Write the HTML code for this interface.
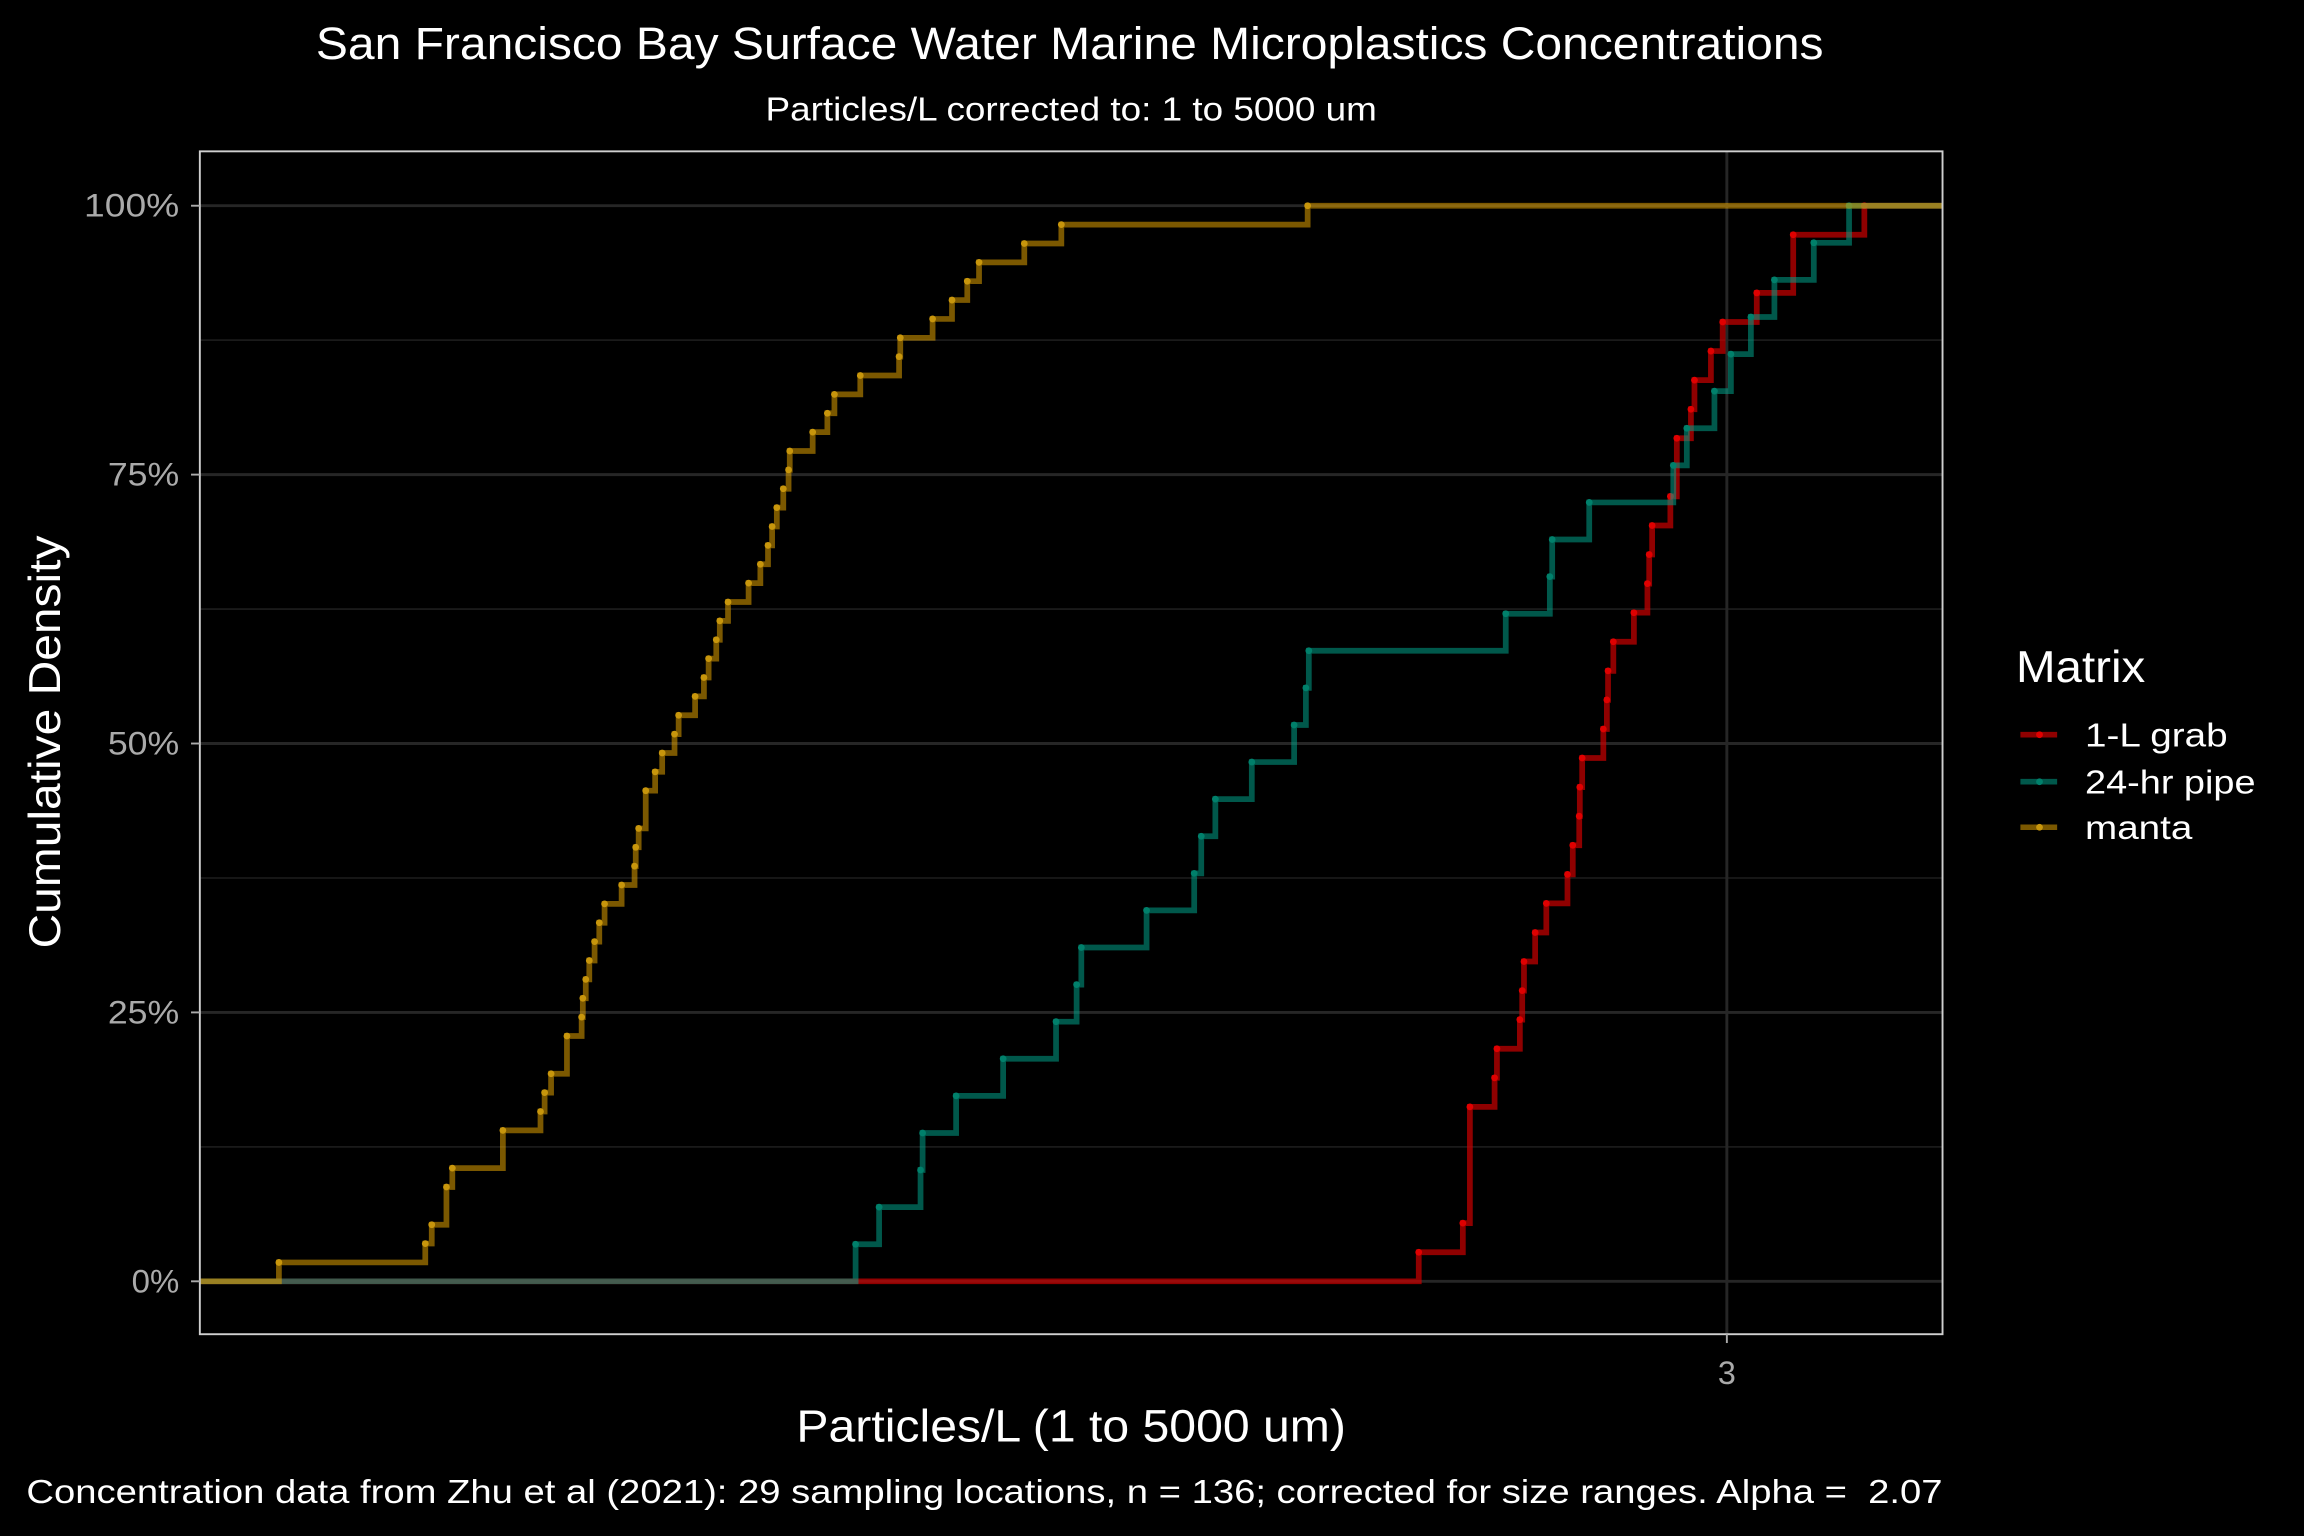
<!DOCTYPE html>
<html><head><meta charset="utf-8"><style>
html,body{margin:0;padding:0;background:#000;}
svg{display:block;font-family:"Liberation Sans",Arial,sans-serif;}
</style></head><body>
<svg id="chart" width="2304" height="1536" viewBox="0 0 1568 1045.33" preserveAspectRatio="none" xmlns="http://www.w3.org/2000/svg">
<rect x="0" y="0" width="1568" height="1046" fill="#000"/>
<text x="728" y="40" text-anchor="middle" font-size="31" textLength="1026" lengthAdjust="spacingAndGlyphs" fill="#fff">San Francisco Bay Surface Water Marine Microplastics Concentrations</text>
<text x="729" y="82" text-anchor="middle" font-size="23" textLength="416" lengthAdjust="spacingAndGlyphs" fill="#fff">Particles/L corrected to: 1 to 5000 um</text>
<g id="grid"></g>
<g id="series"></g>
<rect x="136" y="103" width="1186" height="805" fill="none" stroke="#cfcfcf" stroke-width="1.3"/>
<g id="axes"></g>
<text transform="translate(41,505) rotate(-90)" text-anchor="middle" font-size="30" textLength="281" lengthAdjust="spacingAndGlyphs" fill="#fff">Cumulative Density</text>
<text x="729" y="981" text-anchor="middle" font-size="31" textLength="374" lengthAdjust="spacingAndGlyphs" fill="#fff">Particles/L (1 to 5000 um)</text>
<text x="18" y="1023" font-size="23" textLength="1304" lengthAdjust="spacingAndGlyphs" xml:space="preserve" fill="#fff">Concentration data from Zhu et al (2021): 29 sampling locations, n = 136; corrected for size ranges. Alpha =  2.07</text>
<g>
<text x="1372" y="464" font-size="30" textLength="88" lengthAdjust="spacingAndGlyphs" fill="#fff">Matrix</text>
<g><line x1="1375" y1="500" x2="1400" y2="500" stroke="#cc0000" stroke-opacity="0.7" stroke-width="3.8"/><circle cx="1388" cy="500" r="2.3" fill="#e00000"/><text x="1419" y="508" font-size="23" textLength="97" lengthAdjust="spacingAndGlyphs" fill="#fff">1-L grab</text></g>
<g><line x1="1375" y1="532" x2="1400" y2="532" stroke="#00a088" stroke-opacity="0.55" stroke-width="3.8"/><circle cx="1388" cy="532" r="2.3" fill="#00806b"/><text x="1419" y="540" font-size="23" textLength="116" lengthAdjust="spacingAndGlyphs" fill="#fff">24-hr pipe</text></g>
<g><line x1="1375" y1="563" x2="1400" y2="563" stroke="#e0a000" stroke-opacity="0.55" stroke-width="3.8"/><circle cx="1388" cy="563" r="2.3" fill="#c8960c"/><text x="1419" y="571" font-size="23" textLength="73" lengthAdjust="spacingAndGlyphs" fill="#fff">manta</text></g>
</g>
</svg>
<script>
// log10(Particles/L) values per observation
const mantaLog10 = [-1.986,-1.737,-1.726,-1.701,-1.701,-1.691,-1.605,-1.605,-1.541,-1.534,-1.523,-1.496,-1.496,-1.471,-1.469,-1.464,-1.458,-1.449,-1.441,-1.432,-1.403,-1.381,-1.379,-1.374,-1.362,-1.362,-1.346,-1.334,-1.313,-1.306,-1.278,-1.263,-1.255,-1.242,-1.236,-1.222,-1.187,-1.167,-1.154,-1.147,-1.139,-1.128,-1.119,-1.117,-1.078,-1.053,-1.041,-0.997,-0.931,-0.929,-0.874,-0.841,-0.815,-0.795,-0.718,-0.655,-0.236];
const pipeLog10 = [-1.005,-0.965,-0.8945,-0.891,-0.834,-0.754,-0.664,-0.629,-0.621,-0.510,-0.429,-0.417,-0.393,-0.331,-0.259,-0.239,-0.234,0.101,0.176,0.180,0.243,0.386,0.409,0.456,0.484,0.518,0.558,0.625,0.685];
const grabLog10 = [-0.047,0.028,0.040,0.040,0.040,0.040,0.082,0.086,0.125,0.129,0.132,0.151,0.170,0.206,0.215,0.226,0.227,0.231,0.267,0.273,0.275,0.284,0.319,0.342,0.345,0.350,0.381,0.392,0.392,0.416,0.422,0.450,0.470,0.528,0.590,0.590,0.711];
const yTicks = [0,0.25,0.5,0.75,1];
const yTickLabels = ["0%","25%","50%","75%","100%"];
const xTicks = [3];
const xTickLabels = ["3"];

const NS="http://www.w3.org/2000/svg";
const X0=136,X1=1322,L0=-2.1205,L1=0.844;
function xs(l){return X0+(l-L0)/(L1-L0)*(X1-X0);}
function ys(p){return 872-p*732;}
function mk(tag,attrs,parent){const e=document.createElementNS(NS,tag);for(const k in attrs)e.setAttribute(k,attrs[k]);parent.appendChild(e);return e;}
const grid=document.getElementById('grid'),series=document.getElementById('series'),axes=document.getElementById('axes');
for(let i=0;i<yTicks.length-1;i++){const m=(yTicks[i]+yTicks[i+1])/2;
 const g=mk('line',{x1:X0,x2:X1,y1:ys(m),y2:ys(m),stroke:'#1a1a1a','stroke-width':1.2},grid);
 
 }
yTicks.forEach((t,i)=>{
 const g=mk('line',{x1:X0,x2:X1,y1:ys(t),y2:ys(t),stroke:'#262626','stroke-width':2},grid);
 
 
 const tk=mk('line',{x1:X0-6,x2:X0,y1:ys(t),y2:ys(t),stroke:'#aaa','stroke-width':1.3},axes);
 
 
 const tx=mk('text',{x:X0-14,y:ys(t)+7.5,'text-anchor':'end','font-size':22,fill:'#aaa'},axes);
 tx.textContent=yTickLabels[i];
 tx.setAttribute('textLength',yTickLabels[i].length*16.2);
 tx.setAttribute('lengthAdjust','spacingAndGlyphs');
 
 
});
xTicks.forEach((v,i)=>{const x=xs(Math.log10(v));
 const g=mk('line',{x1:x,x2:x,y1:103,y2:908,stroke:'#262626','stroke-width':2},grid);
 
 
 const tk=mk('line',{x1:x,x2:x,y1:908,y2:914,stroke:'#aaa','stroke-width':1.3},axes);
 
 
 const tx=mk('text',{x:x,y:942,'text-anchor':'middle','font-size':22,fill:'#aaa'},axes);
 tx.textContent=xTickLabels[i];
 
 
});
function drawEcdf(vals,line,op,dot,name){
 const s=vals.slice().sort((a,b)=>a-b),n=s.length;
 let d='M'+X0+','+ys(0);let c=0;const pts=[];
 for(let i=0;i<n;i++){
  d+=' H'+xs(s[i]);
  c=i+1;
  if(i<n-1&&s[i+1]===s[i])continue;
  d+=' V'+ys(c/n);pts.push([s[i],c/n]);
 }
 d+=' H'+X1;
 const p=mk('path',{d:d,fill:'none',stroke:line,'stroke-opacity':op,'stroke-width':3.9,'stroke-linejoin':'miter'},series);
 
 
 pts.forEach(q=>{const e=mk('circle',{cx:xs(q[0]),cy:ys(q[1]),r:2.3,fill:dot},series);
  
  });
}
drawEcdf(grabLog10,'#cc0000',0.7,'#e00000','grab');
drawEcdf(pipeLog10,'#00a088',0.55,'#00806b','pipe');
drawEcdf(mantaLog10,'#e0a000',0.55,'#c8960c','manta');
</script>
</body></html>
